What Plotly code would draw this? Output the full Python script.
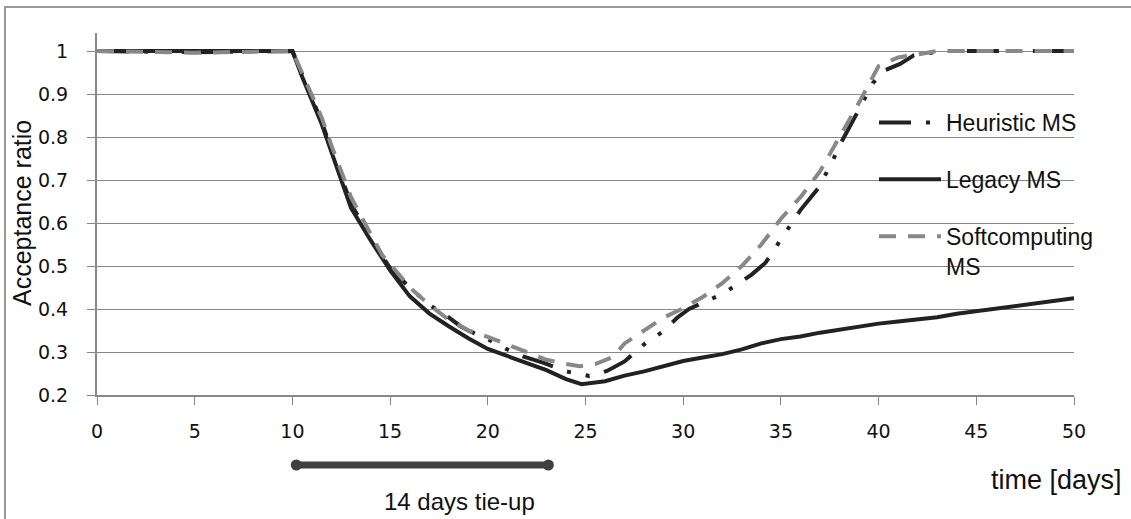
import plotly.graph_objects as go

# ---- data ----
X_LEGACY = [0, 5, 10, 10.5, 11, 11.5, 12, 13, 14, 14.5, 15, 16, 17, 18, 19, 20, 21, 22, 23, 24, 24.8,
            26, 27, 28, 29, 30, 31, 32, 33, 34, 35, 36, 37, 38, 39, 40, 41, 42, 43, 44, 45, 46, 47, 48, 49, 50]
Y_LEGACY = [1.0, 1.0, 1.0, 0.94, 0.885, 0.83, 0.765, 0.635, 0.56, 0.525, 0.49, 0.43, 0.39, 0.36, 0.332, 0.307,
            0.29, 0.273, 0.258, 0.237, 0.225, 0.232, 0.245, 0.255, 0.268, 0.279, 0.287, 0.295, 0.306, 0.32, 0.33,
            0.336, 0.345, 0.352, 0.36, 0.366, 0.371, 0.376, 0.381, 0.389, 0.395, 0.4, 0.405, 0.412, 0.418, 0.425]

X_HEUR = [0, 5, 10, 10.5, 11, 11.5, 12, 13, 14, 15, 16, 17, 17.9, 18.6, 19, 20, 20.9, 21.8, 22.9, 24, 25.2,
          26.1, 27, 28, 29, 29.7, 30.3, 31, 32, 32.7, 33.5, 34.2, 35, 36, 36.9, 37.6, 38, 38.5, 38.9, 39.7,
          40.3, 41.1, 41.8, 43.3, 45, 50]
Y_HEUR = [1.0, 0.997, 1.0, 0.945, 0.89, 0.835, 0.77, 0.645, 0.565, 0.495, 0.45, 0.41, 0.384, 0.36, 0.35, 0.33,
          0.308, 0.29, 0.274, 0.255, 0.244, 0.256, 0.278, 0.318, 0.349, 0.38, 0.4, 0.414, 0.435, 0.455, 0.48,
          0.507, 0.56, 0.63, 0.68, 0.74, 0.78, 0.82, 0.856, 0.925, 0.955, 0.97, 0.99, 1.0, 1.0, 1.0]

X_SOFT = [0, 5, 10, 10.5, 11, 11.5, 12, 13, 14, 14.6, 15, 16, 17, 18, 18.7, 19, 20, 21, 22, 23, 24, 24.7, 25.5,
          26.4, 27, 28, 29, 30, 31, 32, 33, 34, 35, 36, 37, 38, 39, 40, 41, 42, 43, 45, 50]
Y_SOFT = [1.0, 0.996, 1.0, 0.95, 0.9, 0.845, 0.78, 0.66, 0.575, 0.525, 0.505, 0.45, 0.41, 0.375, 0.358, 0.35,
          0.335, 0.317, 0.298, 0.282, 0.272, 0.267, 0.272, 0.288, 0.32, 0.35, 0.38, 0.402, 0.428, 0.46, 0.5,
          0.55, 0.61, 0.66, 0.72, 0.8, 0.88, 0.965, 0.985, 0.992, 1.0, 1.0, 1.0]

NAMES = ["Heuristic MS", "Legacy MS", "Softcomputing<br>MS"]
Y_TICKS = [0.2, 0.3, 0.4, 0.5, 0.6, 0.7, 0.8, 0.9, 1.0]
Y_TICK_TEXT = ["0.2", "0.3", "0.4", "0.5", "0.6", "0.7", "0.8", "0.9", "1"]
X_TICKS = [0, 5, 10, 15, 20, 25, 30, 35, 40, 45, 50]
TIEUP_START, TIEUP_END = 10.2, 23.1
TIEUP_LABEL = "14 days tie-up"
X_TITLE = "time [days]"
Y_TITLE = "Acceptance ratio"

W, H = 1131, 519
ML, MR, MT, MB = 97, 57, 33, 124
PW, PH = W - ML - MR, H - MT - MB


def px_x(p):
    return (p - ML) / PW


def px_y(p):
    return (H - MB - p) / PH


TICK_FONT = dict(family="Verdana, DejaVu Sans", size=19, color="#111")
TXT_FONT = "Liberation Sans"

fig = go.Figure()
fig.add_trace(go.Scatter(x=X_HEUR, y=Y_HEUR, name=NAMES[0], mode="lines", legendgroup="a",
                         line=dict(color="#222222", width=4, dash="32px,15px,4px,15px,4px,15px")))
fig.add_trace(go.Scatter(x=X_LEGACY, y=Y_LEGACY, name=NAMES[1], mode="lines", legendgroup="b",
                         line=dict(color="#222222", width=4)))
fig.add_trace(go.Scatter(x=X_SOFT, y=Y_SOFT, name=NAMES[2], mode="lines", legendgroup="c",
                         line=dict(color="#888888", width=4, dash="17px,12px")))

fig.update_layout(
    width=W, height=H,
    margin=dict(l=ML, r=MR, t=MT, b=MB, pad=0),
    paper_bgcolor="white", plot_bgcolor="white",
    showlegend=True,
    legend=dict(x=px_x(874), y=px_y(101), xanchor="left", yanchor="top",
                bgcolor="rgba(0,0,0,0)", borderwidth=0, itemwidth=62,
                tracegroupgap=24, valign="top",
                font=dict(family=TXT_FONT, size=23, color="#111")),
    xaxis=dict(range=[0, 50], tickvals=X_TICKS, showgrid=False, zeroline=False,
               showline=True, linecolor="#888888", linewidth=2,
               ticks="outside", ticklen=8, tickwidth=1, tickcolor="#888888",
               tickfont=TICK_FONT, ticklabelstandoff=10),
    yaxis=dict(range=[0.2, 0.2 + PH / 430], tickvals=Y_TICKS, ticktext=Y_TICK_TEXT,
               showgrid=True, gridcolor="#888888", gridwidth=1, zeroline=False,
               showline=True, linecolor="#888888", linewidth=2,
               ticks="outside", ticklen=8, tickwidth=1, tickcolor="#888888",
               tickfont=TICK_FONT, ticklabelstandoff=15),
)

# outer frame (left and top edges visible)
fig.add_shape(type="rect", xref="paper", yref="paper",
              x0=px_x(5), x1=px_x(W + 60), y0=px_y(H + 60), y1=px_y(7),
              line=dict(color="#999999", width=2), layer="below")

# tie-up span
ty = px_y(465)
fig.add_shape(type="line", xref="x", yref="paper", x0=TIEUP_START, x1=TIEUP_END, y0=ty, y1=ty,
              line=dict(color="#404040", width=7))
r = 5.5
for xc in (TIEUP_START, TIEUP_END):
    fig.add_shape(type="circle", xref="x", yref="paper",
                  x0=xc - r * 50 / PW, x1=xc + r * 50 / PW, y0=ty - r / PH, y1=ty + r / PH,
                  line=dict(width=0), fillcolor="#404040")

fig.add_annotation(x=px_x(459), y=px_y(501), xref="paper", yref="paper",
                   xanchor="center", yanchor="middle",
                   text=TIEUP_LABEL, showarrow=False,
                   font=dict(family=TXT_FONT, size=24, color="#111"))
fig.add_annotation(x=px_x(1124), y=px_y(480), xref="paper", yref="paper",
                   xanchor="right", yanchor="middle",
                   text=X_TITLE, showarrow=False,
                   font=dict(family=TXT_FONT, size=27, color="#111"))
fig.add_annotation(x=px_x(22), y=px_y(213), xref="paper", yref="paper", textangle=-90,
                   xanchor="center", yanchor="middle",
                   text=Y_TITLE, showarrow=False,
                   font=dict(family=TXT_FONT, size=25, color="#111"))

fig.write_html("out.html")
